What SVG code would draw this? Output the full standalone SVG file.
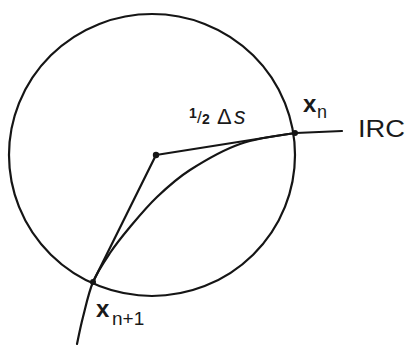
<svg xmlns="http://www.w3.org/2000/svg" width="406" height="345" viewBox="0 0 406 345">
<style>
.ln{fill:none;stroke:#151515;stroke-width:2.2;stroke-linecap:round;stroke-linejoin:round}
.dot{fill:#151515}
text{font-family:"Liberation Sans",Arial,sans-serif;fill:#1a1a1a}
.vec{font-weight:bold;font-size:24px}
.sub{font-size:18px}
</style>
<rect width="406" height="345" fill="#fff"/>
<g id="circle">
<ellipse class="ln" cx="152" cy="155" rx="143" ry="141"/>
</g>
<g id="connectors">
<path id="irc-curve" class="ln" d="M342,131 L296,133 C279,135.2 257.7,137.8 240,144 C222.3,150.2 203.8,161.2 190,170 C176.2,178.8 167,187.5 157,197 C147,206.5 137.8,217.7 130,227 C122.2,236.3 116.2,243.8 110,253 C103.8,262.2 97.5,271.3 93,282 C88.5,292.7 85.7,306.7 83,317 C80.3,327.3 78,339.5 77,344"/>
<polyline id="chords" class="ln" points="295,133 156,155 93,282"/>
</g>
<g id="center">
<circle class="dot" cx="156" cy="155" r="3.2"/>
</g>
<g id="xn">
<circle class="dot" cx="295" cy="133" r="3"/>
<text x="303" y="112" class="vec">x</text>
<text x="317" y="118" class="sub">n</text>
</g>
<g id="xn1">
<circle class="dot" cx="93" cy="282" r="3"/>
<text x="96" y="317" class="vec">x</text>
<text x="112" y="325" style="font-size:19px">n+1</text>
</g>
<g id="label-ds">
<text x="189" y="118"><tspan style="font-size:14px;font-weight:bold">1</tspan><tspan x="197" dy="5" style="font-size:17px">/</tspan><tspan x="202" dy="1" style="font-size:14px;font-weight:bold">2</tspan><tspan x="217" dy="0" style="font-size:22px">Δ</tspan><tspan x="234" style="font-size:23px;font-style:italic">s</tspan></text>
</g>
<g id="irc">
<text x="358" y="137" style="font-size:23px" textLength="47" lengthAdjust="spacingAndGlyphs">IRC</text>
</g>
</svg>
